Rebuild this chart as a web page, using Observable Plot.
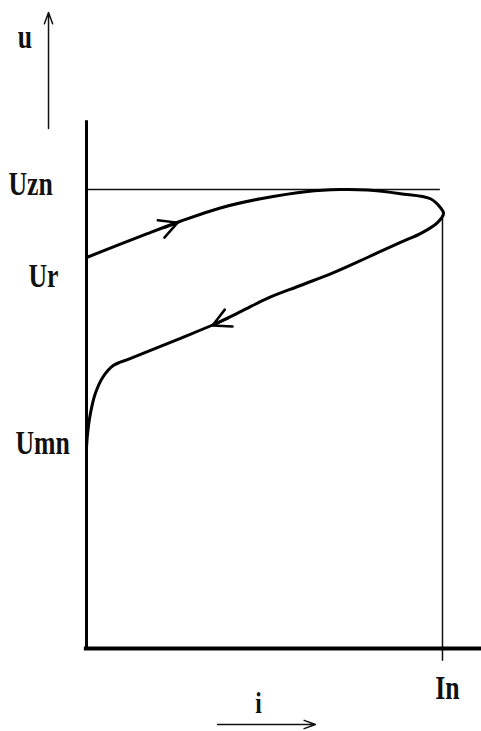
<!DOCTYPE html>
<html>
<head>
<meta charset="utf-8">
<script src="https://cdn.jsdelivr.net/npm/d3@7"></script>
<script src="https://cdn.jsdelivr.net/npm/@observablehq/plot@0.6"></script>
<style>
  html, body { margin: 0; padding: 0; background: #fff; }
</style>
</head>
<body>
<div id="chart"></div>
<script>
// Current i (In = 1) and voltage u (Uzn = 1) along the loop:
// rising branch from Ur up past Uzn, turning at In, falling back to Umn.
const loopI = [0, 0.171, 0.264, 0.376, 0.489, 0.621, 0.713, 0.789, 0.882, 0.966, 0.994, 1.003,
               0.986, 0.938, 0.882, 0.789, 0.694, 0.601, 0.508, 0.433, 0.357, 0.264, 0.124, 0.076, 0.045, 0.025, 0.011, 0.003, 0];
const loopU = [0.852, 0.904, 0.931, 0.960, 0.980, 0.996, 1.000, 0.999, 0.991, 0.980, 0.961, 0.948,
               0.928, 0.904, 0.885, 0.852, 0.819, 0.791, 0.763, 0.734, 0.706, 0.676, 0.632, 0.617, 0.590, 0.556, 0.512, 0.468, 0.438];

// Direction arrows on the two branches (tail → tip)
const dirI1 = [0.0815, 0.531];
const dirU1 = [0.876, 0.767];
const dirI2 = [0.256, 0.354];
const dirU2 = [0.928, 0.704];

// Voltage levels named on the u axis
const levelNames = ["Uzn", "Ur", "Umn"];
const levelU = [1.011, 0.810, 0.447];

// Reference values
const uzn = 1;
const iN = 1;

const loop = loopI.map((i, k) => ({i, u: loopU[k]}));
const dirs = dirI1.map((x1, k) => ({x1, y1: dirU1[k], x2: dirI2[k], y2: dirU2[k]}));
const levels = levelNames.map((name, k) => ({name, u: levelU[k]}));
// left edge of each level name, in pixels from the u axis
const levelDx = {"Uzn": -78, "Ur": -58, "Umn": -71};

const serif = "'Liberation Serif', 'Times New Roman', serif";

const svg = Plot.plot({
  width: 481,
  height: 731,
  marginTop: 0,
  marginBottom: 83,
  marginLeft: 0,
  marginRight: 0,
  style: {background: "#fff", fontFamily: serif},
  x: {domain: [-0.2416, 1.1096], axis: null},
  y: {domain: [0, 1.412], axis: null},
  marks: [
    // guide lines at Uzn and In
    Plot.ruleY([uzn], {x1: 0, x2: 0.994, stroke: "#111", strokeWidth: 1.5}),
    Plot.ruleX([iN], {y1: -0.028, y2: 0.937, stroke: "#111", strokeWidth: 1.5}),
    // axes
    Plot.ruleX([0], {y1: -0.004, y2: 1.150, stroke: "#000", strokeWidth: 3}),
    Plot.ruleY([0], {x1: -0.006, x2: 1.1096, stroke: "#000", strokeWidth: 4}),
    // u arrow
    Plot.arrow([{x1: -0.1067, y1: 1.133, x2: -0.1067, y2: 1.386}], {
      x1: "x1", y1: "y1", x2: "x2", y2: "y2", stroke: "#111", strokeWidth: 1.5, headLength: 12, headAngle: 40
    }),
    // i arrow
    Plot.arrow([{x1: 0.368, y1: -0.1656, x2: 0.643, y2: -0.1656}], {
      x1: "x1", y1: "y1", x2: "x2", y2: "y2", stroke: "#111", strokeWidth: 1.5, headLength: 12, headAngle: 40
    }),
    // the loop
    Plot.line(loop, {x: "i", y: "u", curve: "catmull-rom", stroke: "#000", strokeWidth: 3, strokeLinejoin: "round"}),
    // direction heads: long arrows inset from the tail so only the head and a stub show
    Plot.arrow(dirs, {x1: "x1", y1: "y1", x2: "x2", y2: "y2", insetStart: 52, stroke: "#000", strokeWidth: 2.5, headLength: 12, headAngle: 55}),
    // labels
    Plot.text(levels, {x: 0, y: "u", text: "name", textAnchor: "start", fontSize: 33, fontWeight: "bold", fill: "#111"}),
    Plot.text(["u"], {x: -0.173, y: 1.331, text: (d) => d, fontSize: 33, fontWeight: "bold", fill: "#111"}),
    Plot.text(["In"], {x: 1.014, y: -0.087, text: (d) => d, fontSize: 33, fontWeight: "bold", fill: "#111"}),
    Plot.text(["i"], {x: 0.483, y: -0.120, text: (d) => d, fontSize: 30, fontWeight: "bold", fill: "#111"})
  ]
});

// place the level names left of the u axis and narrow all lettering
const textGroups = svg.querySelectorAll('g[aria-label="text"]');
textGroups.forEach((g, gi) => {
  g.querySelectorAll("text").forEach((t) => {
    const name = t.textContent;
    const shift = gi === 0 && levelDx[name] !== undefined ? levelDx[name] : 0;
    const tr = t.getAttribute("transform") || "";
    t.setAttribute("transform", tr + ` translate(${shift},0) scale(0.78,1)`);
  });
});

document.getElementById("chart").append(svg);
</script>
</body>
</html>
